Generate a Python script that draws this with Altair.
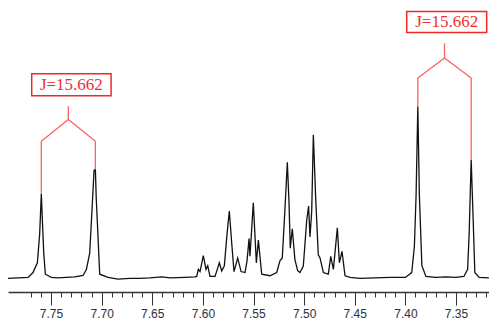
import altair as alt
import pandas as pd

# ---- spectrum trace (ppm, intensity in arbitrary units) ----
ppm = [7.7925, 7.7826, 7.7727, 7.7678, 7.7635, 7.7612, 7.7596, 7.7582, 7.7572, 7.7556,
       7.7497, 7.7431, 7.7349, 7.7266, 7.7184, 7.7151, 7.7118, 7.7095, 7.7075, 7.7062,
       7.7053, 7.7043, 7.7019, 7.6937, 7.6838, 7.6723, 7.6621, 7.6522, 7.6407, 7.6325,
       7.6177, 7.6078, 7.6061, 7.6045, 7.6028, 7.5996, 7.5969, 7.5952, 7.5930, 7.5880,
       7.5858, 7.5838, 7.5814, 7.5788, 7.5762, 7.5739, 7.5718, 7.5693, 7.5656, 7.5623,
       7.5584, 7.5564, 7.5544, 7.5535, 7.5502, 7.5472, 7.5452, 7.5419, 7.5338, 7.5271,
       7.5239, 7.5216, 7.5190, 7.5166, 7.5150, 7.5137, 7.5117, 7.5091, 7.5064, 7.5041,
       7.5008, 7.4975, 7.4956, 7.4942, 7.4925, 7.4909, 7.4886, 7.4860, 7.4843, 7.4810,
       7.4761, 7.4737, 7.4711, 7.4672, 7.4652, 7.4626, 7.4596, 7.4547, 7.4449, 7.4300,
       7.4152, 7.4000, 7.3937, 7.3911, 7.3894, 7.3877, 7.3862, 7.3837, 7.3797, 7.3699,
       7.3600, 7.3501, 7.3422, 7.3385, 7.3370, 7.3350, 7.3330, 7.3314, 7.3271, 7.3175]
intensity = [0.0, 0.5, 1.0, 6.0, 16.0, 46.0, 86.7, 51.0, 26.0, 4.3,
             1.0, 0.5, 1.0, 1.5, 3.0, 9.0, 26.0, 71.0, 111.0, 112.0,
             81.0, 59.0, 4.3, 1.0, -0.7, 0.0, 0.0, 0.5, 1.5, 0.5,
             1.0, 1.5, 2.0, 9.3, 7.0, 23.3, 9.3, 13.0, 2.0, 2.0,
             9.3, 16.0, 7.7, 13.0, 45.0, 69.3, 40.0, 7.0, 21.0, 7.0,
             6.0, 18.0, 41.0, 22.7, 77.7, 16.0, 39.3, 4.3, 2.7, 6.0,
             18.0, 21.0, 70.0, 119.3, 80.0, 31.0, 51.0, 19.3, 8.0, 6.0,
             12.7, 59.3, 74.3, 42.7, 69.3, 147.7, 82.7, 24.3, 21.0, 6.0,
             4.3, 22.7, 9.3, 52.0, 16.0, 27.7, 2.7, 1.0, 0.0, 0.5,
             1.0, 1.0, 6.0, 33.0, 86.0, 176.7, 86.0, 13.0, 2.0, 1.0,
             1.5, 1.0, 2.0, 9.3, 46.0, 122.0, 59.3, 6.0, 1.0, 0.5]

# ---- axis ticks ----
minor_ticks = [round(7.77 - 0.01 * k, 2) for k in range(46)]  # 7.77 ... 7.32

# ---- coupling annotations ----
j_labels = ["J=15.662", "J=15.662"]
peak_a = [7.7596, 7.3877]          # left line of each doublet
peak_b = [7.7062, 7.3350]          # right line of each doublet
top_a = [86.7, 176.7]
top_b = [112.0, 122.0]
leg_top = [141.0, 206.0]
apex = [163.3, 226.7]
stem_top = [177.0, 241.7]
box_bottom = [187.7, 252.7]
box_top = [210.3, 274.3]
box_left = [7.7691, 7.3987]
box_right = [7.6907, 7.3197]

spec = pd.DataFrame({"ppm": ppm, "intensity": intensity})

segs = []
for i in range(2):
    mid = (peak_a[i] + peak_b[i]) / 2
    segs += [
        dict(ppm=peak_a[i], intensity=top_a[i], ppm2=peak_a[i], intensity2=leg_top[i]),
        dict(ppm=peak_b[i], intensity=top_b[i], ppm2=peak_b[i], intensity2=leg_top[i]),
        dict(ppm=peak_a[i], intensity=leg_top[i], ppm2=mid, intensity2=apex[i]),
        dict(ppm=peak_b[i], intensity=leg_top[i], ppm2=mid, intensity2=apex[i]),
        dict(ppm=mid, intensity=apex[i], ppm2=mid, intensity2=stem_top[i]),
    ]
seg_df = pd.DataFrame(segs)
box_df = pd.DataFrame({
    "ppm": box_left, "ppm2": box_right, "intensity": box_bottom, "intensity2": box_top,
    "label": j_labels,
})
text_df = pd.DataFrame({
    "ppm": [(a + b) / 2 for a, b in zip(box_left, box_right)],
    "intensity": [(a + b) / 2 for a, b in zip(box_bottom, box_top)],
    "label": j_labels,
})

xscale = alt.Scale(domain=[7.7925, 7.3174], nice=False, zero=False)
yscale = alt.Scale(domain=[-14, 278], nice=False, zero=False)

is_major = "abs(round(datum.value*100) % 5) == 0"
xaxis = alt.Axis(
    values=minor_ticks,
    labelExpr=f"{is_major} ? format(datum.value, '.2f') : ''",
    tickSize={"condition": {"test": is_major, "value": 13}, "value": 5},
    title=None, grid=False, labelFlush=False, labelOverlap=False,
    labelFont="Liberation Sans", labelFontSize=12, labelColor="#2e3040",
    labelPadding=3, domainColor="#333333", domainWidth=1.5,
    tickColor="#333333", tickWidth=1,
)

X = alt.X("ppm:Q", scale=xscale, axis=xaxis)
Y = alt.Y("intensity:Q", scale=yscale, axis=None)

line = alt.Chart(spec).mark_line(color="#111111", strokeWidth=1.3, clip=True).encode(x=X, y=Y)

rules = alt.Chart(seg_df).mark_rule(color="#ff6060", strokeWidth=1.3).encode(
    x=X, y=Y, x2="ppm2:Q", y2="intensity2:Q",
)

boxes = alt.Chart(box_df).mark_rect(fill="white", stroke="#f02828", strokeWidth=1.5).encode(
    x=X, x2="ppm2:Q", y=Y, y2="intensity2:Q",
)

texts = alt.Chart(text_df).mark_text(
    font="Liberation Serif", fontSize=17, color="#ee3030", baseline="middle", align="center"
).encode(x=X, y=Y, text="label:N")

chart = alt.layer(line, rules, boxes, texts).properties(
    width=481, height=311, padding=0,
    autosize=alt.AutoSizeParams(type="fit", contains="padding"),
).configure_view(stroke=None)

chart.save("out.html", embed_options={"renderer": "svg", "actions": False})
